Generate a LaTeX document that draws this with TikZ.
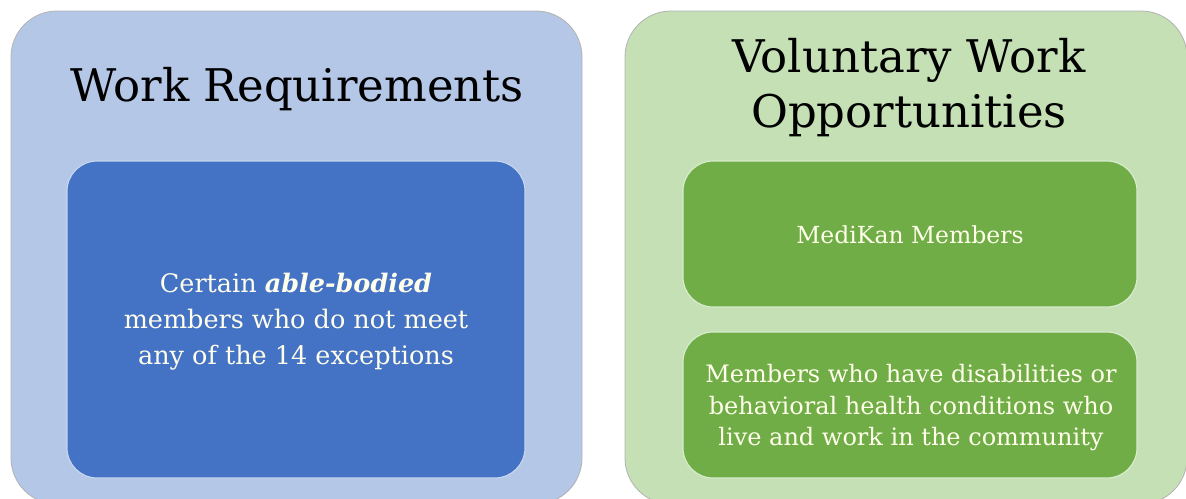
\documentclass[tikz,border=0pt]{standalone}
\usepackage{fontspec}
\setmainfont{DejaVu Serif}
\begin{document}
\begin{tikzpicture}[x=1pt,y=-1pt,
  panel/.style={draw=black!30, line width=0.8pt, rounded corners=46pt},
  cardbox/.style={draw=white!85!black, line width=1.2pt, rounded corners=30pt},
  title/.style={text=black, align=center, font=\fontsize{45}{55}\selectfont},
  cardtext/.style={text=white!92!yellow, align=center}]
\useasboundingbox (0,0) rectangle (1186,498);
\begin{scope}
\clip (0,0) rectangle (1186,498);
% outer panels
\path[panel, fill={rgb,255:red,180;green,199;blue,231}] (11,11) rectangle (582,504);
\path[panel, fill={rgb,255:red,197;green,224;blue,180}] (625,11) rectangle (1187,504);
\end{scope}
% inner cards
\path[cardbox, draw={rgb,255:red,200;green,215;blue,240}, fill={rgb,255:red,68;green,114;blue,196}] (67,161) rectangle (525,478);
\path[cardbox, draw={rgb,255:red,215;green,235;blue,205}, fill={rgb,255:red,112;green,173;blue,71}] (683,161) rectangle (1137,307);
\path[cardbox, draw={rgb,255:red,215;green,235;blue,205}, fill={rgb,255:red,112;green,173;blue,71}] (683,332) rectangle (1137,478);
% titles
\node[title] (t1) at (297,89) {Work Requirements};
\node[title] (t2) at (909,88) {Voluntary Work\\Opportunities};
% card texts
\node[cardtext, font=\fontsize{25.5}{36}\selectfont] (c1) at (296,322) {Certain \textbf{\textit{able-bodied}}\\members who do not meet\\any of the 14 exceptions};
\node[cardtext, font=\fontsize{23.5}{28}\selectfont] (c2) at (910,235) {MediKan Members};
\node[cardtext, font=\fontsize{24}{31.5}\selectfont] (c3) at (911,408) {Members who have disabilities or\\behavioral health conditions who\\live and work in the community};
\end{tikzpicture}
\end{document}
